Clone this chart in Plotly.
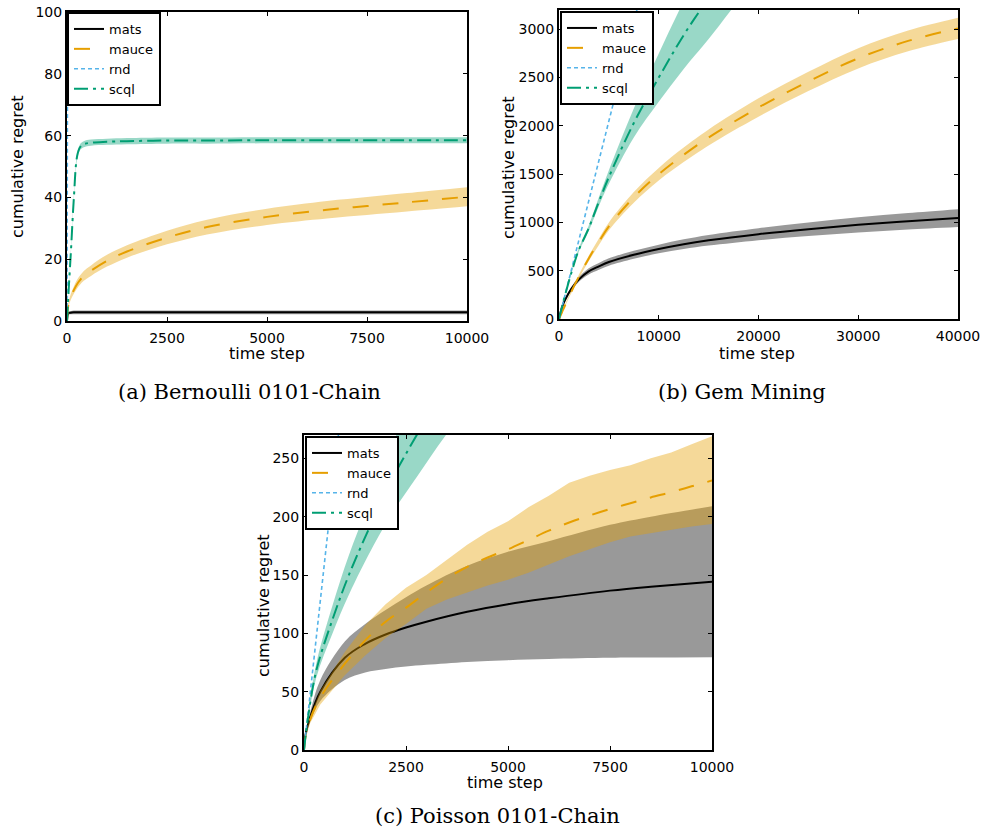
import plotly.graph_objects as go

# ---------------- Panel (a): Bernoulli 0101-Chain ----------------
a_t = [0, 25, 50, 100, 170, 255, 330, 420, 600, 1000, 1500, 2500, 3500, 5000, 6500, 7500, 8500, 10000]
a_mats = [0, 2.3, 2.6, 2.7, 2.8, 2.8, 2.8, 2.8, 2.8, 2.8, 2.8, 2.8, 2.8, 2.8, 2.8, 2.8, 2.8, 2.8]
a_mats_lo = [0, 1.8, 2.1, 2.2, 2.2, 2.2, 2.2, 2.2, 2.2, 2.2, 2.2, 2.2, 2.2, 2.2, 2.2, 2.2, 2.2, 2.2]
a_mats_hi = [0, 2.8, 3.1, 3.2, 3.4, 3.4, 3.4, 3.4, 3.4, 3.4, 3.4, 3.4, 3.4, 3.4, 3.4, 3.4, 3.4, 3.4]
a_mauce = [0, 4.5, 6.0, 8.0, 10.0, 12.0, 13.3, 14.6, 16.3, 19.5, 22.5, 27.0, 30.4, 33.7, 36.0, 37.2, 38.4, 40.2]
a_mauce_lo = [0, 3.9, 5.2, 7.0, 8.8, 10.6, 11.8, 13.0, 14.6, 17.6, 20.5, 24.8, 28.0, 31.1, 33.2, 34.3, 35.4, 37.1]
a_mauce_hi = [0, 5.1, 6.8, 9.0, 11.2, 13.4, 14.8, 16.2, 18.0, 21.4, 24.5, 29.2, 32.8, 36.3, 38.8, 40.1, 41.4, 43.3]
a_scql = [0, 6, 12, 23, 39.5, 53.5, 56.3, 57.2, 57.7, 58.0, 58.2, 58.4, 58.4, 58.5, 58.5, 58.5, 58.5, 58.5]
a_scql_lo = [0, 5.7, 11.5, 22.3, 38.7, 52.6, 55.3, 56.2, 56.7, 57.0, 57.2, 57.4, 57.4, 57.5, 57.5, 57.5, 57.5, 57.5]
a_scql_hi = [0, 6.3, 12.5, 23.7, 40.3, 54.4, 57.3, 58.2, 58.7, 59.0, 59.2, 59.4, 59.4, 59.5, 59.5, 59.5, 59.5, 59.5]
a_rnd_t = [0, 10000]
a_rnd = [0, 3000]

# ---------------- Panel (b): Gem Mining ----------------
b_t = [0, 300, 600, 1270, 2000, 2940, 4000, 5000, 7500, 10000, 12500, 15000, 20000, 25000, 30000, 35000, 40000]
b_mats = [0, 120, 197, 317, 410, 490, 545, 590, 665, 725, 775, 815, 878, 930, 975, 1012, 1045]
b_mats_lo = [0, 110, 182, 297, 385, 458, 510, 552, 623, 680, 725, 760, 816, 860, 897, 927, 953]
b_mats_hi = [0, 130, 212, 337, 435, 522, 580, 628, 707, 770, 825, 870, 940, 1000, 1053, 1097, 1137]
b_mauce = [0, 70, 140, 290, 440, 620, 800, 960, 1260, 1500, 1700, 1880, 2190, 2460, 2700, 2880, 3010]
b_mauce_lo = [0, 65, 130, 275, 420, 592, 767, 920, 1205, 1435, 1625, 1798, 2095, 2360, 2595, 2772, 2900]
b_mauce_hi = [0, 75, 150, 305, 460, 648, 833, 1000, 1315, 1565, 1775, 1962, 2285, 2560, 2805, 2988, 3120]
b_scql = [0, 125, 245, 490, 720, 930, 1215, 1470, 2030, 2500, 2940, 3330, 4150, 5000, 5850, 6700, 7550]
b_scql_lo = [0, 122, 240, 480, 702, 902, 1170, 1400, 1880, 2250, 2590, 2900, 3560, 4150, 4800, 5450, 6100]
b_scql_hi = [0, 128, 250, 500, 738, 958, 1260, 1540, 2180, 2750, 3290, 3780, 4800, 5850, 6900, 7950, 9000]
b_rnd_t = [0, 40000]
b_rnd = [0, 16400]

# ---------------- Panel (c): Poisson 0101-Chain ----------------
c_t_mats = [0, 25, 150, 400, 1000, 1500, 2000, 2500, 3000, 4000, 5000, 6000, 7500, 8500, 10000]
c_mats = [0, 11, 28, 50, 79, 91, 99, 105, 110, 118.5, 125, 130, 136.6, 140, 144.3]
c_mats_lo = [0, 10, 24, 42, 60, 66.5, 69.5, 71.5, 73, 75.5, 77, 78, 79, 79.2, 79.4]
c_mats_hi = [0, 12, 32, 60, 93, 108, 120, 131, 141, 158, 170, 179, 193, 200, 209]
c_t_mauce = [0, 25, 150, 400, 1000, 1500, 2000, 2500, 3000, 3500, 4000, 4500, 5000, 5500,
             6000, 6500, 7000, 7500, 8000, 8500, 9000, 9500, 10000]
c_mauce = [0, 9, 26, 45, 74, 94, 110, 122, 135, 147, 157, 165, 172, 180,
           188, 195, 201, 206.5, 211.5, 216.5, 221, 226, 231]
c_mauce_lo = [0, 8, 23, 39, 64, 81, 96, 108, 121, 129, 135, 141, 146, 152,
              159, 166, 172, 178, 183, 186, 189, 191.5, 193.7]
c_mauce_hi = [0, 10, 29, 51, 84, 107, 125, 139, 150, 163, 176, 187, 196, 208,
              218, 229, 235, 240, 244, 250, 255, 262, 269]
c_t_scql = [0, 100, 300, 700, 1100, 1700, 2200, 2764, 3500, 4500]
c_scql = [0, 28, 68, 112, 150, 198, 235, 270, 315, 370]
c_scql_lo = [0, 26, 62, 100, 133, 175, 205, 234, 271, 315]
c_scql_hi = [0, 30, 74, 124, 167, 221, 265, 306, 359, 425]
c_rnd_t = [0, 10000]
c_rnd = [0, 3200]

# ---------------- styling ----------------
COL = {"mats": "#000000", "mauce": "#E69F00", "rnd": "#56B4E9", "scql": "#009E73"}
FILL = {"mats": "rgba(0,0,0,0.4)", "mauce": "rgba(230,159,0,0.4)", "scql": "rgba(0,158,115,0.4)"}
DASH = {"mats": "solid", "mauce": "16px,14px", "rnd": "4px,3px", "scql": "14px,5px,3px,5px"}

fig = go.Figure()


def add_band(t, lo, hi, name, xa, ya, shape="spline"):
    fig.add_trace(go.Scatter(x=t, y=lo, mode="lines", line=dict(width=0, shape=shape),
                             showlegend=False, hoverinfo="skip", xaxis=xa, yaxis=ya))
    fig.add_trace(go.Scatter(x=t, y=hi, mode="lines", line=dict(width=0, shape=shape),
                             fill="tonexty", fillcolor=FILL[name],
                             showlegend=False, hoverinfo="skip", xaxis=xa, yaxis=ya))


def add_line(t, y, name, xa, ya, legend, width=2):
    fig.add_trace(go.Scatter(x=t, y=y, mode="lines", name=name,
                             line=dict(color=COL[name], width=width, dash=DASH[name], shape="spline"),
                             xaxis=xa, yaxis=ya, legend=legend))


# panel a
add_band(a_t, a_mats_lo, a_mats_hi, "mats", "x", "y")
add_line(a_t, a_mats, "mats", "x", "y", "legend")
add_band(a_t, a_mauce_lo, a_mauce_hi, "mauce", "x", "y")
add_line(a_t, a_mauce, "mauce", "x", "y", "legend")
add_line(a_rnd_t, a_rnd, "rnd", "x", "y", "legend", width=1.6)
add_band(a_t, a_scql_lo, a_scql_hi, "scql", "x", "y")
add_line(a_t, a_scql, "scql", "x", "y", "legend")

# panel b
add_band(b_t, b_mats_lo, b_mats_hi, "mats", "x2", "y2")
add_line(b_t, b_mats, "mats", "x2", "y2", "legend2")
add_band(b_t, b_mauce_lo, b_mauce_hi, "mauce", "x2", "y2")
add_line(b_t, b_mauce, "mauce", "x2", "y2", "legend2")
add_line(b_rnd_t, b_rnd, "rnd", "x2", "y2", "legend2", width=1.6)
add_band(b_t, b_scql_lo, b_scql_hi, "scql", "x2", "y2")
add_line(b_t, b_scql, "scql", "x2", "y2", "legend2")

# panel c
add_band(c_t_mats, c_mats_lo, c_mats_hi, "mats", "x3", "y3")
add_line(c_t_mats, c_mats, "mats", "x3", "y3", "legend3")
add_band(c_t_mauce, c_mauce_lo, c_mauce_hi, "mauce", "x3", "y3", shape="linear")
add_line(c_t_mauce, c_mauce, "mauce", "x3", "y3", "legend3")
add_line(c_rnd_t, c_rnd, "rnd", "x3", "y3", "legend3", width=1.6)
add_band(c_t_scql, c_scql_lo, c_scql_hi, "scql", "x3", "y3")
add_line(c_t_scql, c_scql, "scql", "x3", "y3", "legend3")

W, H = 985, 832


def px(x):
    return x / W


def py(y):
    return 1 - y / H


TICKFONT = dict(family="DejaVu Sans", size=14, color="#000000")


def axis(**kw):
    d = dict(showline=True, linecolor="black", linewidth=2, mirror="ticks",
             ticks="inside", ticklen=4, tickwidth=1, tickcolor="black",
             showgrid=False, zeroline=False, tickfont=TICKFONT, tickformat="d",
             automargin=False)
    d.update(kw)
    return d


fig.update_layout(
    width=W, height=H, margin=dict(l=0, r=0, t=0, b=0, pad=0, autoexpand=False),
    paper_bgcolor="white", plot_bgcolor="white",
    font=dict(family="DejaVu Sans", size=14, color="black"),
    xaxis=axis(domain=[px(67), px(467)], range=[0, 10000], tickvals=[0, 2500, 5000, 7500, 10000],
               anchor="y", ticklabelstandoff=3),
    yaxis=axis(domain=[py(321), py(12)], range=[0, 100], tickvals=[0, 20, 40, 60, 80, 100],
               anchor="x"),
    xaxis2=axis(domain=[px(559), px(958)], range=[0, 40000],
                tickvals=[0, 10000, 20000, 30000, 40000], anchor="y2", ticklabelstandoff=3),
    yaxis2=axis(domain=[py(319), py(10)], range=[0, 3200],
                tickvals=[0, 500, 1000, 1500, 2000, 2500, 3000], anchor="x2"),
    xaxis3=axis(domain=[px(304), px(712)], range=[0, 10000], tickvals=[0, 2500, 5000, 7500, 10000],
                anchor="y3", ticklabelstandoff=3),
    yaxis3=axis(domain=[py(750), py(435)], range=[0, 270], tickvals=[0, 50, 100, 150, 200, 250],
                anchor="x3"),
)

leg_common = dict(bgcolor="white", bordercolor="black", borderwidth=2,
                  font=dict(family="DejaVu Sans", size=13, color="black"),
                  xanchor="left", yanchor="top", tracegroupgap=0, traceorder="normal")
fig.update_layout(
    legend=dict(x=px(67), y=py(12), **leg_common),
    legend2=dict(x=px(560), y=py(11), **leg_common),
    legend3=dict(x=px(305), y=py(436), **leg_common),
)

TITLEFONT = dict(family="DejaVu Sans", size=16, color="black")
CAPFONT = dict(family="DejaVu Serif", size=21, color="black")
ann = [
    dict(text="time step", x=px(267), y=py(353), font=TITLEFONT),
    dict(text="time step", x=px(757), y=py(353), font=TITLEFONT),
    dict(text="time step", x=px(505), y=py(782), font=TITLEFONT),
    dict(text="cumulative regret", x=px(17), y=py(167), font=TITLEFONT, textangle=-90),
    dict(text="cumulative regret", x=px(508), y=py(167), font=TITLEFONT, textangle=-90),
    dict(text="cumulative regret", x=px(263), y=py(606), font=TITLEFONT, textangle=-90),
    dict(text="(a) Bernoulli 0101-Chain", x=px(250), y=py(392), font=CAPFONT),
    dict(text="(b) Gem Mining", x=px(742), y=py(392), font=CAPFONT),
    dict(text="(c) Poisson 0101-Chain", x=px(497), y=py(816), font=CAPFONT),
]
for a in ann:
    a.update(xref="paper", yref="paper", showarrow=False, xanchor="center", yanchor="middle")
fig.update_layout(annotations=ann)

fig.write_html(
    "out.html",
    config={"displayModeBar": False},
    post_script="document.body.style.margin='0';document.body.style.padding='0';"
                "document.body.style.overflow='hidden';",
)
